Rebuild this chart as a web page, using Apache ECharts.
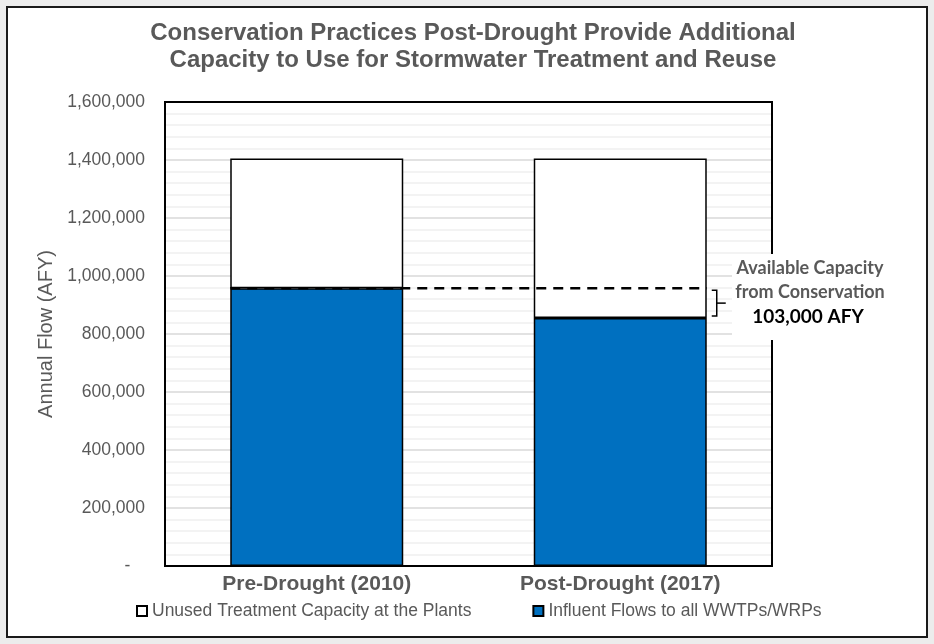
<!DOCTYPE html>
<html>
<head>
<meta charset="utf-8">
<script src="https://cdn.jsdelivr.net/npm/echarts@6/dist/echarts.min.js"></script>
<style>
html,body{margin:0;padding:0;background:#ececec;}
#c{width:934px;height:644px;}
</style>
</head>
<body>
<div id="c"></div>
<script>
var titleLines = ['Conservation Practices Post-Drought Provide Additional', 'Capacity to Use for Stormwater Treatment and Reuse'];
var categories = ['Pre-Drought (2010)', 'Post-Drought (2017)'];
var influentName = 'Influent Flows to all WWTPs/WRPs';
var unusedName = 'Unused Treatment Capacity at the Plants';
var influent = [958000, 855000];
var unused = [447000, 550000];
var yTicks = [0, 200000, 400000, 600000, 800000, 1000000, 1200000, 1400000, 1600000];
var yName = 'Annual Flow (AFY)';
var annoLines = ['Available Capacity', 'from Conservation'];
var annoValue = '103,000 AFY';

var gray = '#595959';
var chart = echarts.init(document.getElementById('c'));
var option = {
  backgroundColor: '#ffffff',
  animation: false,
  title: {
    text: titleLines.join('\n'),
    left: 473, top: 20, padding: 0, textAlign: 'center',
    textStyle: {fontFamily: 'Liberation Sans', fontSize: 24, fontWeight: 'bold', color: gray, lineHeight: 27}
  },
  legend: {
    data: [unusedName, influentName],
    left: 131, top: 597, itemGap: 61,
    itemWidth: 10, itemHeight: 10, icon: 'rect',
    textStyle: {fontFamily: 'Liberation Sans', fontSize: 17.5, color: gray}
  },
  grid: {left: 165, right: 162, top: 102, bottom: 78, show: true, borderColor: '#000', borderWidth: 2, containLabel: false},
  xAxis: {
    type: 'category', data: categories,
    axisLine: {show: false}, axisTick: {show: false},
    axisLabel: {margin: 8, fontFamily: 'Liberation Sans', fontSize: 21, fontWeight: 'bold', color: gray}
  },
  yAxis: {
    type: 'value', min: yTicks[0], max: yTicks[yTicks.length - 1], interval: yTicks[1] - yTicks[0],
    name: yName, nameLocation: 'middle', nameGap: 109,
    nameTextStyle: {fontFamily: 'Liberation Sans', fontSize: 20, color: gray},
    axisLine: {show: false}, axisTick: {show: false},
    axisLabel: {margin: 20, fontFamily: 'Liberation Sans', fontSize: 17.5, color: gray,
      formatter: function (v) { return v === 0 ? '-   ' : v.toLocaleString('en-US'); }},
    splitLine: {lineStyle: {color: '#d9d9d9', width: 1.5}},
    minorTick: {show: false, splitNumber: 5},
    minorSplitLine: {show: true, lineStyle: {color: '#efefef', width: 1.5}}
  },
  series: [
    {name: influentName, type: 'bar', stack: 'total', data: influent, barWidth: '57%',
     itemStyle: {color: '#0070c0', borderColor: '#000', borderWidth: 1.5}},
    {name: unusedName, type: 'bar', stack: 'total', data: unused, barWidth: '57%',
     itemStyle: {color: '#ffffff', borderColor: '#000', borderWidth: 1.5}}
  ]
};
chart.setOption(option);

function drawOverlay() {
  var c0 = chart.convertToPixel({xAxisIndex: 0}, categories[0]);
  var c1 = chart.convertToPixel({xAxisIndex: 0}, categories[1]);
  var half = (c1 - c0) * 0.57 / 2;
  var yPre = chart.convertToPixel({yAxisIndex: 0}, influent[0]);
  var yPost = chart.convertToPixel({yAxisIndex: 0}, influent[1]);
  var yTop = chart.convertToPixel({yAxisIndex: 0}, yTicks[yTicks.length - 1]);
  var yBot = chart.convertToPixel({yAxisIndex: 0}, yTicks[0]);
  var gridLeft = 165, gridRight = 934 - 162;
  var bx = c1 + half + 5;
  var els = [
    {type: 'rect', z: 98, silent: true, shape: {x: gridLeft, y: yTop, width: gridRight - gridLeft, height: yBot - yTop},
     style: {fill: null, stroke: '#000', lineWidth: 2}},
    {type: 'line', z: 100, shape: {x1: c0 - half, y1: yPre, x2: c1 + half, y2: yPre},
     style: {stroke: '#000', lineWidth: 2.5, lineDash: [10, 7]}},
    {type: 'polyline', z: 100, shape: {points: [[bx, yPre + 2], [bx + 5, yPre + 2], [bx + 5, yPost - 2], [bx, yPost - 2]]},
     style: {stroke: '#000', lineWidth: 1.5, fill: null}},
    {type: 'line', z: 100, shape: {x1: bx + 5, y1: (yPre + yPost) / 2, x2: bx + 14, y2: (yPre + yPost) / 2},
     style: {stroke: '#000', lineWidth: 1.5}},
    {type: 'rect', z: 99, shape: {x: gridRight - 40, y: 254, width: 160, height: 86},
     style: {fill: '#ffffff'}},
    {type: 'text', z: 101, x: 810, y: 268, style: {text: annoLines[0], fontFamily: 'Lato', fontWeight: 'bold', fontSize: 18, fill: gray, align: 'center', verticalAlign: 'middle'}},
    {type: 'text', z: 101, x: 810, y: 292, style: {text: annoLines[1], fontFamily: 'Lato', fontWeight: 'bold', fontSize: 18, fill: gray, align: 'center', verticalAlign: 'middle'}},
    {type: 'text', z: 101, x: 808, y: 317, style: {text: annoValue, fontFamily: 'Lato', fontWeight: 'bold', fontSize: 19, fill: '#000', align: 'center', verticalAlign: 'middle'}},
    {type: 'rect', z: 102, silent: true, shape: {x: 0, y: 0, width: 934, height: 644}, style: {fill: null, stroke: '#ececec', lineWidth: 12}},
    {type: 'rect', z: 102, silent: true, shape: {x: 7, y: 7, width: 920, height: 630}, style: {fill: null, stroke: '#1a1a1a', lineWidth: 2}}
  ];
  chart.setOption({graphic: {elements: els}});
}
drawOverlay();
</script>
</body>
</html>
